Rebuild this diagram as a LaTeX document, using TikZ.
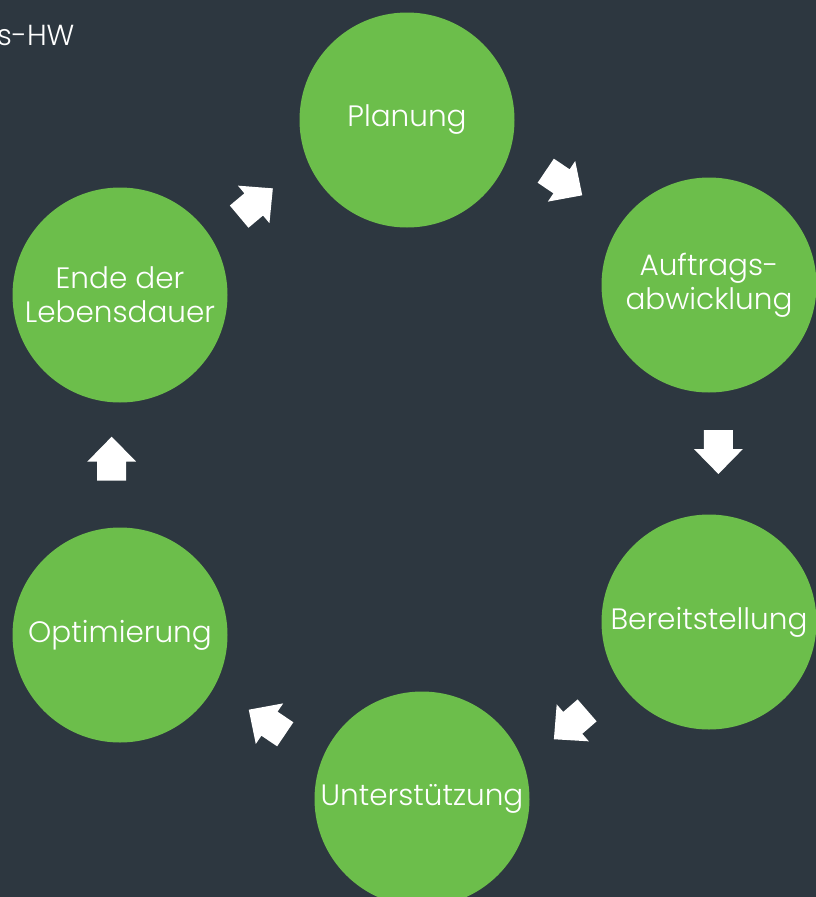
\documentclass[tikz,border=0pt]{standalone}
\usepackage{fontspec}
\setmainfont{Poppins}[UprightFont=* Light]
\definecolor{bgdark}{HTML}{2D3740}
\definecolor{leaf}{HTML}{6CBE4B}
\begin{document}
\begin{tikzpicture}[x=1pt,y=1pt,
  phase/.style={circle,fill=leaf,draw=none,minimum size=215pt,inner sep=0pt,
    text=white,align=center,font=\fontsize{29.5}{34}\selectfont},
  blockarr/.pic={\fill[white] (-22,-14.5) -- (-3,-14.5) -- (-3,-24.5) -- (22,0)
    -- (-3,24.5) -- (-3,14.5) -- (-22,14.5) -- cycle;}]
\fill[bgdark] (0,0) rectangle (816,-897);
\useasboundingbox (0,0) rectangle (816,-897);
\clip (0,0) rectangle (816,-897);
\node[anchor=base west,text=white,font=\fontsize{29}{34}\selectfont,inner sep=0pt] (title) at (-3,-45) {s-HW};
\node[phase] (plan) at (407,-120) {Planung};
\node[phase] (auft) at (709,-285) {Auftrags-\\abwicklung};
\node[phase] (bereit) at (709,-622) {Bereitstellung};
\node[phase] (unter) at (422,-799) {Unterstützung};
\node[phase] (opt) at (120,-635) {Optimierung};
\node[phase] (ende) at (120,-295) {Ende der\\Lebensdauer};
\pic[rotate=40] at (256,-202.5) {blockarr};
\pic[rotate=-34] at (564,-183) {blockarr};
\pic[rotate=-90] at (718.4,-452) {blockarr};
\pic[rotate=-139] at (570.5,-724.8) {blockarr};
\pic[rotate=146] at (267,-722) {blockarr};
\pic[rotate=90] at (111.7,-458.7) {blockarr};
\end{tikzpicture}
\end{document}
